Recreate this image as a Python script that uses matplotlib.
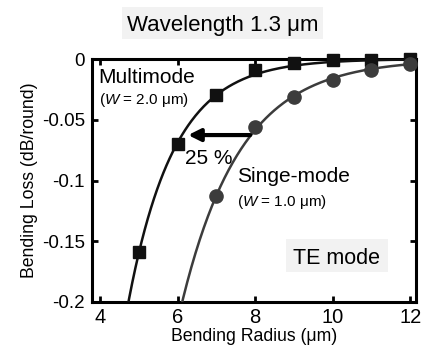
import numpy as np
import matplotlib.pyplot as plt
from matplotlib.patches import Rectangle

plt.rcParams["font.family"] = ["Liberation Sans", "DejaVu Sans"]
plt.rcParams["mathtext.fontset"] = "custom"
plt.rcParams["mathtext.rm"] = "Liberation Sans"
plt.rcParams["mathtext.it"] = "Liberation Sans:italic"

# values
radius_multi = [5, 6, 7, 8, 9, 10, 11, 12]
loss_multi = [-0.159, -0.070, -0.030, -0.009, -0.003, -0.001, -0.001, 0.0]
radius_single = [7, 8, 9, 10, 11, 12]
loss_single = [-0.113, -0.056, -0.031, -0.017, -0.009, -0.004]

x_ticks = [4, 6, 8, 10, 12]
y_ticks = [0, -0.05, -0.1, -0.15, -0.2]
y_tick_labels = ["0", "-0.05", "-0.1", "-0.15", "-0.2"]

# arrow: 25 % shift in radius
arrow_y = -0.0626
arrow_from = 7.87
arrow_to = 6.27

C_MULTI = "#111111"
C_SINGLE = "#3c3c3c"
C_BOX = "#f2f2f2"


def exp_fit(x, y):
    # least-squares exponential fit, weighted so it behaves like a linear-space fit
    x = np.asarray(x, float)
    y = np.asarray(y, float)
    m = y < 0
    b, a = np.polyfit(x[m], np.log(-y[m]), 1, w=-y[m])
    xs = np.linspace(4.0, 12.0, 300)
    return xs, -np.exp(a + b * xs)


W, H = 426, 349
fig = plt.figure(figsize=(W / 100, H / 100), dpi=100)
ax = fig.add_axes([92 / W, 1 - 302 / H, 324 / W, 243 / H])

xs, ys = exp_fit(radius_multi, loss_multi)
ax.plot(xs, ys, color=C_MULTI, lw=1.8, zorder=3)
xs, ys = exp_fit(radius_single, loss_single)
ax.plot(xs, ys, color=C_SINGLE, lw=1.8, zorder=3)

ax.plot(radius_multi, loss_multi, ls="none", marker="s", ms=8, color=C_MULTI, zorder=5, clip_on=False)
ax.plot(radius_single, loss_single, ls="none", marker="o", ms=9.5, color=C_SINGLE, zorder=5, clip_on=False)

ax.set_xlim(3.79, 12.15)
ax.set_ylim(-0.2, 0)
ax.set_xticks(x_ticks)
ax.set_yticks(y_ticks)
ax.set_yticklabels(y_tick_labels)
ax.tick_params(direction="in", length=4, width=2, top=True, right=True, pad=5)
ax.tick_params(axis="x", labelsize=14.5, pad=4)
ax.tick_params(axis="y", labelsize=13.5)
for s in ax.spines.values():
    s.set_linewidth(2.2)

ax.set_xlabel("Bending Radius (μm)", fontsize=12.7, labelpad=1)
ax.set_ylabel("Bending Loss (dB/round)", fontsize=12.7, labelpad=3)

ax.annotate("", xy=(arrow_to, arrow_y), xytext=(arrow_from, arrow_y),
            arrowprops=dict(arrowstyle="-|>", lw=3, color="k", mutation_scale=18, shrinkA=0, shrinkB=0),
            zorder=6)

ax.text(3.95, -0.015, "Multimode", fontsize=15, va="center", ha="left")
ax.text(3.96, -0.034, "($\\it{W}$ = 2.0 μm)", fontsize=11, va="center", ha="left")
ax.text(6.19, -0.0815, "25 %", fontsize=15, va="center", ha="left")
ax.text(7.53, -0.097, "Singe-mode", fontsize=15, va="center", ha="left")
ax.text(7.53, -0.118, "($\\it{W}$ = 1.0 μm)", fontsize=11, va="center", ha="left")

# shaded label boxes (pixel positions from the reference)
fig.patches.append(Rectangle((286 / W, 1 - 272 / H), 102 / W, 33 / H, transform=fig.transFigure,
                             fc=C_BOX, ec="none", zorder=1))
fig.text(336.5 / W, 1 - 263.5 / H, "TE mode", fontsize=15.5, va="baseline", ha="center", zorder=2)

fig.patches.append(Rectangle((122 / W, 1 - 39 / H), 201 / W, 32 / H, transform=fig.transFigure,
                             fc=C_BOX, ec="none"))
fig.text(223 / W, 1 - 31 / H, "Wavelength 1.3 μm", fontsize=16, va="baseline", ha="center")

fig.savefig("out.png", dpi=100)
